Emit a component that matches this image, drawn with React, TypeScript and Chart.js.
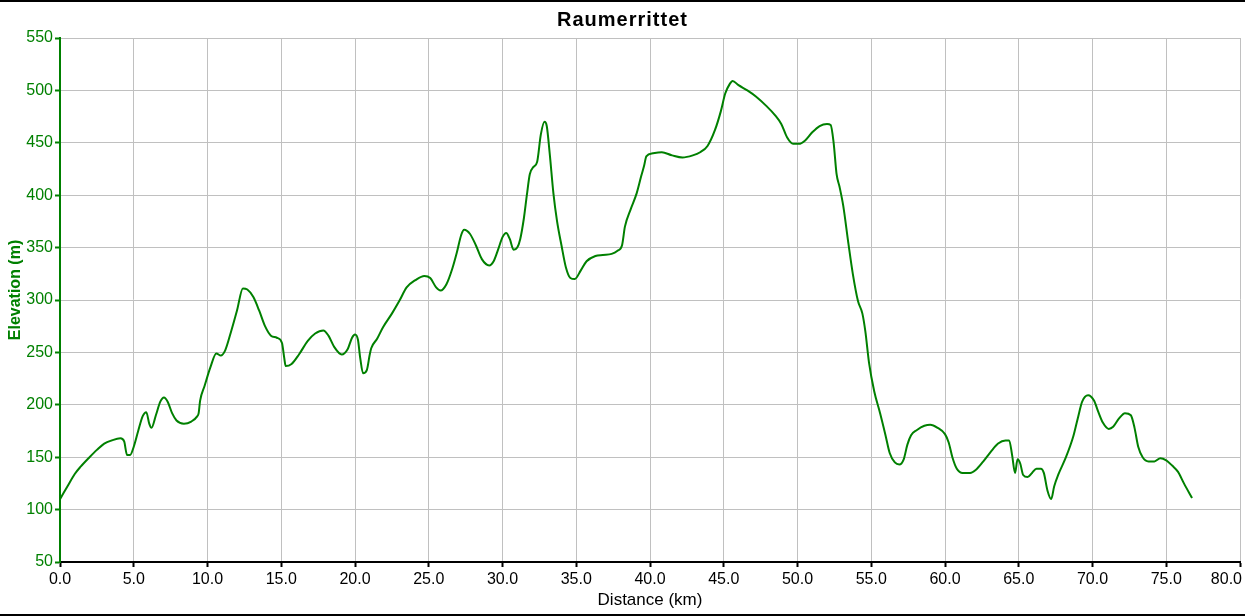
import React, { useEffect, useRef } from 'react';
import { Chart, registerables } from 'chart.js';

Chart.register(...registerables);

const chartTitle = 'Raumerrittet';
const xAxisTitle = 'Distance (km)';
const yAxisTitle = 'Elevation (m)';

const distanceKm = [
  0.0, 0.5, 1.0, 1.4, 2.0, 2.5, 3.0, 3.5, 4.1, 4.35, 4.55, 4.75, 5.0, 5.3, 5.6, 5.85, 6.05, 6.2, 6.5, 6.8,
  7.05, 7.3, 7.6, 7.9, 8.4, 8.9, 9.3, 9.4, 9.5, 9.8, 10.2, 10.6, 10.9, 11.2, 11.6, 12.0, 12.4, 12.7, 13.1, 13.5,
  13.9, 14.3, 14.7, 15.05, 15.2, 15.3, 15.7, 16.2, 16.8, 17.3, 17.85, 18.2, 18.6, 19.1, 19.5, 19.8, 20.0, 20.2, 20.35, 20.55,
  20.8, 21.0, 21.1, 21.5, 21.9, 22.5, 23.0, 23.5, 24.1, 24.7, 25.1, 25.5, 25.8, 26.2, 26.6, 26.9, 27.2, 27.4, 27.8, 28.2,
  28.6, 29.1, 29.4, 29.7, 30.0, 30.25, 30.5, 30.75, 31.0, 31.2, 31.45, 31.65, 31.85, 32.1, 32.35, 32.6, 32.85, 33.0, 33.2, 33.45,
  33.7, 34.0, 34.3, 34.6, 34.9, 35.3, 35.7, 36.3, 36.8, 37.4, 37.8, 38.1, 38.3, 38.7, 39.1, 39.4, 39.6, 39.75, 40.2, 40.8,
  41.5, 42.2, 42.9, 43.4, 43.9, 44.4, 44.8, 45.1, 45.4, 45.6, 46.0, 46.6, 47.2, 47.9, 48.5, 48.9, 49.3, 49.7, 50.1, 50.5,
  51.0, 51.5, 52.0, 52.25, 52.45, 52.65, 52.85, 53.1, 53.45, 53.75, 54.1, 54.4, 54.6, 54.85, 55.2, 55.6, 55.95, 56.25, 56.6, 56.9,
  57.2, 57.45, 57.7, 58.1, 58.6, 59.0, 59.5, 60.0, 60.25, 60.5, 60.8, 61.2, 61.7, 62.1, 62.6, 63.1, 63.6, 64.1, 64.35, 64.55,
  64.75, 64.92, 65.1, 65.3, 65.6, 65.9, 66.2, 66.5, 66.7, 66.95, 67.2, 67.4, 67.7, 68.2, 68.7, 69.0, 69.3, 69.7, 70.1, 70.4,
  70.7, 71.1, 71.4, 71.8, 72.2, 72.6, 72.85, 73.1, 73.4, 73.8, 74.2, 74.6, 75.0, 75.4, 75.8, 76.2, 76.75,
];

const elevationM = [
  110, 122, 134, 141, 150, 157, 163, 166, 168, 165, 152, 152, 160, 175, 189, 193, 182, 178, 190, 203,
  207, 203, 192, 185, 182, 184, 189, 192, 204, 218, 236, 249, 247, 252, 270, 290, 311, 310, 303, 290,
  275, 266, 264, 259, 245, 237, 239, 248, 261, 268, 271, 266, 255, 248, 253, 264, 267, 262, 245, 230,
  233, 248, 254, 263, 274, 287, 299, 312, 319, 323, 321, 312, 309, 315, 330, 345, 362, 367, 363, 352,
  339, 333, 337, 348, 360, 364, 358, 348, 350, 358, 378, 400, 420, 427, 432, 458, 470, 466, 440, 402,
  375, 352, 331, 321, 320, 328, 337, 342, 343, 344, 347, 352, 370, 387, 402, 418, 428, 437, 440, 441,
  438, 436, 438, 441, 447, 462, 480, 497, 506, 509, 505, 500, 494, 485, 476, 468, 455, 449, 449, 452,
  460, 466, 468, 467, 450, 420, 408, 390, 354, 325, 299, 287, 270, 240, 213, 192, 172, 154, 145, 143,
  148, 162, 171, 176, 180, 181, 178, 172, 164, 150, 139, 135, 135, 138, 146, 155, 163, 166, 166, 152,
  135, 148, 144, 133, 131, 135, 139, 139, 135, 118, 110, 122, 134, 150, 170, 187, 203, 209, 204, 193,
  183, 177, 179, 187, 192, 190, 178, 160, 150, 146, 146, 149, 147, 142, 136, 125, 111,
];

const xMin = 0;
const xMax = 80;
const xStep = 5;
const yMin = 50;
const yMax = 550;
const yStep = 50;

const FONT = '"Liberation Sans", Arial, sans-serif';
const GREEN = '#008000';
const GRID = '#c0c0c0';

export default function App() {
  const ref = useRef<HTMLCanvasElement>(null);

  useEffect(() => {
    const canvas = ref.current;
    if (!canvas) return;

    const decorPlugin = {
      id: 'decor',
      beforeDraw(chart: any) {
        const ctx = chart.ctx;
        ctx.save();
        ctx.fillStyle = '#ffffff';
        ctx.fillRect(0, 0, chart.width, chart.height);
        ctx.restore();
      },
      afterDraw(chart: any) {
        const ctx = chart.ctx;
        ctx.save();
        ctx.fillStyle = '#000000';
        ctx.fillRect(0, 0, chart.width, 2);
        ctx.fillRect(0, chart.height - 2, chart.width, 2);

        ctx.font = `bold 20px ${FONT}`;
        (ctx as any).letterSpacing = '1px';
        ctx.textAlign = 'center';
        ctx.textBaseline = 'middle';
        ctx.fillText(chartTitle, chart.width / 2, 20);

        (ctx as any).letterSpacing = '0px';
        ctx.font = `16px ${FONT}`;
        const xs = chart.scales.x;
        for (const t of xs.ticks) {
          const label = Number(t.value).toFixed(1);
          const w = ctx.measureText(label).width;
          let cx = xs.getPixelForValue(t.value);
          cx = Math.min(cx, chart.width - 3 - w / 2);
          ctx.fillText(label, cx, 580);
        }

        ctx.save();
        ctx.translate(16, 290);
        ctx.rotate(-Math.PI / 2);
        ctx.fillStyle = GREEN;
        ctx.font = `bold 16px ${FONT}`;
        ctx.textAlign = 'center';
        ctx.textBaseline = 'middle';
        ctx.fillText(yAxisTitle, 0, 0);
        ctx.restore();

        ctx.restore();
      },
    };

    const points = distanceKm.map((d, i) => ({ x: d, y: elevationM[i] }));

    const chart = new Chart(canvas, {
      type: 'line',
      data: {
        datasets: [
          {
            data: points,
            borderColor: GREEN,
            borderWidth: 2,
            pointRadius: 0,
            fill: false,
            cubicInterpolationMode: 'monotone',
          },
        ],
      },
      options: {
        responsive: false,
        animation: false,
        devicePixelRatio: 1,
        layout: { padding: { top: 38, right: 5, left: 0, bottom: 0 } },
        plugins: {
          legend: { display: false },
          title: { display: false },
          tooltip: { enabled: false },
        },
        scales: {
          x: {
            type: 'linear',
            min: xMin,
            max: xMax,
            ticks: { stepSize: xStep, display: false },
            grid: { color: GRID, lineWidth: 1, tickLength: 5, tickColor: '#000000', tickWidth: 2 },
            border: { color: '#000000', width: 2 },
            title: {
              display: true,
              text: xAxisTitle,
              color: '#000000',
              font: { family: FONT, size: 17 },
              padding: { top: 0, bottom: 5 },
            },
            afterFit(s: any) {
              s.height = 54;
              s.paddingLeft = 0;
              s.paddingRight = 0;
            },
          },
          y: {
            type: 'linear',
            min: yMin,
            max: yMax,
            ticks: { stepSize: yStep, color: GREEN, font: { family: FONT, size: 16 }, padding: 2 },
            grid: { color: GRID, lineWidth: 1, tickLength: 5, tickColor: GREEN, tickWidth: 2 },
            border: { color: GREEN, width: 2 },
            title: { display: false },
            afterFit(s: any) {
              s.width = 60;
            },
          },
        },
      } as any,
      plugins: [decorPlugin],
    });

    return () => chart.destroy();
  }, []);

  return (
    <div style={{ position: 'fixed', left: 0, top: 0, width: 1245, height: 616, background: '#fff' }}>
      <canvas ref={ref} width={1245} height={616} style={{ display: 'block', width: 1245, height: 616 }} />
    </div>
  );
}
